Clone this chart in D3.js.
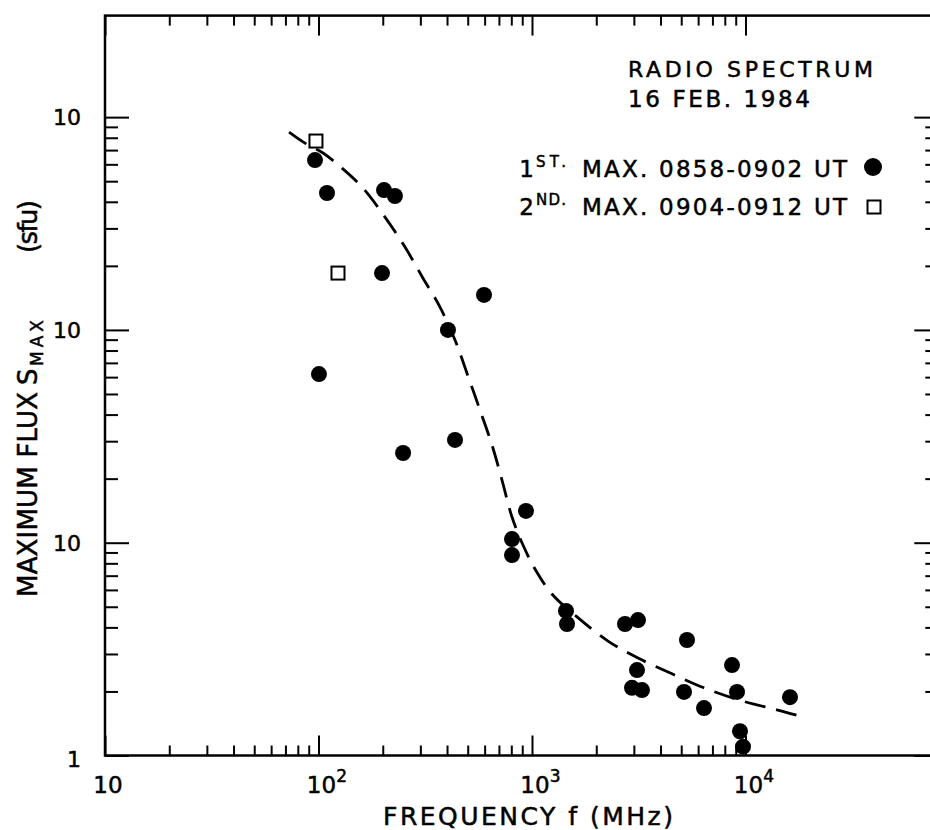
<!DOCTYPE html>
<html>
<head>
<meta charset="utf-8">
<script src="https://cdn.jsdelivr.net/npm/d3@7"></script>
<style>
  body { margin: 0; background: #fff; }
  svg text { font-family: "DejaVu Sans", sans-serif; fill: #000; stroke: #000; stroke-width: 0.5px; }
</style>
</head>
<body>
<div id="chart"></div>
<script>
// Datos (frecuencia en MHz, flujo en sfu)
const firstFreq = [96.3, 109.6, 202.7, 228, 198.4, 596, 404, 100.5, 249, 436,
                   937, 806, 806, 1443, 1459, 2727, 3137, 5321, 8648, 3103,
                   2940, 3275, 5152, 6392, 9126, 16160, 9424, 9734];
const firstFlux = [628, 440, 454, 426, 185, 146, 100, 62, 26.4, 30.4,
                   14.1, 10.4, 8.75, 4.78, 4.15, 4.15, 4.33, 3.49, 2.66, 2.52,
                   2.08, 2.03, 1.99, 1.67, 1.99, 1.88, 1.30, 1.10];
const secondFreq = [97.3, 123.4];
const secondFlux = [772, 185];

// curva ajustada (discontinua)
const fitFreq = [72.8, 86.5, 105, 128.9, 161.6, 204.9, 254.2, 308.7, 370.8, 435.8,
                 501.4, 570.7, 649.4, 723.6, 805.9, 907.5, 1033, 1240, 1625, 2270,
                 3137, 4527, 6392, 9734, 14050, 18000];
const fitFlux = [851, 755, 678, 576, 464, 339, 245, 175, 128, 89.7,
                 60.7, 42.0, 28.8, 19.7, 13.2, 9.75, 7.52, 5.74, 4.48, 3.45,
                 2.87, 2.42, 2.08, 1.80, 1.64, 1.53];

// ejes
const xMajor = [10, 100, 1000, 10000];
const xExp = ["", "2", "3", "4"];
const yMajor = [1, 10, 100, 1000];
const yLabels = ["1", "10", "10", "10"];

const width = 930, height = 830;

const svg = d3.select("#chart")
    .append("svg")
    .attr("width", width)
    .attr("height", height);

const x = d3.scaleLog().domain([10, 80000]).range([105, 938.3]);
const y = d3.scaleLog().domain([1, 3000]).range([755.5, 15.6]);

const xLeft = x.range()[0], xRight = x.range()[1];
const yBottom = y.range()[0], yTop = y.range()[1];

// ticks menores 2..9 de cada década
const xMinor = [];
[10, 100, 1000].forEach(d => { for (let k = 2; k < 10; k++) xMinor.push(d * k); });
const yMinor = [];
[1, 10, 100].forEach(d => { for (let k = 2; k < 10; k++) yMinor.push(d * k); });

function tickAxis(axis, pos, values, size) {
    svg.append("g")
        .attr("transform", pos)
        .call(axis.tickValues(values).tickSize(-size).tickFormat(""))
        .call(g => g.select(".domain").remove())
        .call(g => g.selectAll("line").attr("stroke", "#000").attr("stroke-width", 2));
}

tickAxis(d3.axisBottom(x), `translate(0,${yBottom})`, xMajor, 20);
tickAxis(d3.axisBottom(x), `translate(0,${yBottom})`, xMinor, 10);
tickAxis(d3.axisTop(x), `translate(0,${yTop})`, xMajor, 20);
tickAxis(d3.axisTop(x), `translate(0,${yTop})`, xMinor, 10);
tickAxis(d3.axisLeft(y), `translate(${xLeft},0)`, yMajor, 24);
tickAxis(d3.axisLeft(y), `translate(${xLeft},0)`, yMinor, 13);
tickAxis(d3.axisRight(y), `translate(${xRight},0)`, yMajor, 24);
tickAxis(d3.axisRight(y), `translate(${xRight},0)`, yMinor, 13);

// marco
svg.append("rect")
    .attr("x", xLeft).attr("y", yTop)
    .attr("width", xRight - xLeft).attr("height", yBottom - yTop)
    .attr("fill", "none").attr("stroke", "#000").attr("stroke-width", 2.5);

// etiquetas eje x
xMajor.forEach((v, i) => {
    const t = svg.append("text")
        .attr("x", x(v) + 3).attr("y", 793)
        .attr("text-anchor", "middle")
        .attr("font-size", 23)
        .text("10");
    if (xExp[i]) {
        const w = t.node().getComputedTextLength();
        svg.append("text")
            .attr("x", x(v) + 3 + w / 2).attr("y", 782)
            .attr("font-size", 17)
            .text(xExp[i]);
    }
});

// etiquetas eje y
yMajor.forEach((v, i) => {
    svg.append("text")
        .attr("x", 81).attr("y", y(v) + (v === 1 ? 11 : 8))
        .attr("text-anchor", "end")
        .attr("font-size", 22)
        .text(yLabels[i]);
});

// títulos de ejes
svg.append("text")
    .attr("x", 383).attr("y", 825)
    .attr("font-size", 25)
    .attr("textLength", 290).attr("lengthAdjust", "spacing")
    .text("FREQUENCY  f  (MHz)");

const yLab = svg.append("g").attr("transform", "translate(37,0) rotate(-90)");
yLab.append("text").attr("x", -597).attr("y", 0).attr("font-size", 26)
    .attr("textLength", 205).attr("lengthAdjust", "spacing")
    .text("MAXIMUM FLUX");
yLab.append("text").attr("x", -385).attr("y", 0).attr("font-size", 26).text("S");
yLab.append("text").attr("x", -366).attr("y", 6).attr("font-size", 17)
    .attr("textLength", 46).attr("lengthAdjust", "spacing").text("MAX");
yLab.append("text").attr("x", -253).attr("y", 0).attr("font-size", 26)
    .attr("textLength", 53).attr("lengthAdjust", "spacing").text("(sfu)");

// título y leyenda
svg.append("text").attr("x", 628).attr("y", 77).attr("font-size", 22)
    .attr("textLength", 245).attr("lengthAdjust", "spacing").text("RADIO SPECTRUM");
svg.append("text").attr("x", 628).attr("y", 107).attr("font-size", 23)
    .attr("textLength", 182).attr("lengthAdjust", "spacing").text("16 FEB. 1984");

const legendRows = [
    { num: "1", sup: "ST.", text: "MAX. 0858-0902 UT", base: 177 },
    { num: "2", sup: "ND.", text: "MAX. 0904-0912 UT", base: 215 }
];
legendRows.forEach(r => {
    svg.append("text").attr("x", 534).attr("y", r.base)
        .attr("text-anchor", "end").attr("font-size", 23).text(r.num);
    svg.append("text").attr("x", 536).attr("y", r.base - 10).attr("font-size", 15)
        .attr("textLength", 30).attr("lengthAdjust", "spacing").text(r.sup);
    svg.append("text").attr("x", 582).attr("y", r.base).attr("font-size", 23)
        .attr("textLength", 265).attr("lengthAdjust", "spacing").text(r.text);
});
svg.append("circle").attr("cx", 873).attr("cy", 167).attr("r", 9).attr("fill", "#000");
svg.append("rect").attr("x", 867.5).attr("y", 200.5).attr("width", 13).attr("height", 13)
    .attr("fill", "#fff").attr("stroke", "#000").attr("stroke-width", 2);

// curva discontinua
const fit = fitFreq.map((f, i) => [f, fitFlux[i]]);
svg.append("path")
    .datum(fit)
    .attr("d", d3.line().x(d => x(d[0])).y(d => y(d[1])).curve(d3.curveCatmullRom))
    .attr("fill", "none")
    .attr("stroke", "#000")
    .attr("stroke-width", 2.8)
    .attr("stroke-dasharray", "21,11");

// puntos: primer máximo
svg.selectAll(".first")
    .data(firstFreq.map((f, i) => [f, firstFlux[i]]))
    .enter().append("circle")
    .attr("class", "first")
    .attr("cx", d => x(d[0]))
    .attr("cy", d => y(d[1]))
    .attr("r", 8)
    .attr("fill", "#000");

// puntos: segundo máximo
svg.selectAll(".second")
    .data(secondFreq.map((f, i) => [f, secondFlux[i]]))
    .enter().append("rect")
    .attr("class", "second")
    .attr("x", d => x(d[0]) - 6.5)
    .attr("y", d => y(d[1]) - 6.5)
    .attr("width", 13).attr("height", 13)
    .attr("fill", "#fff")
    .attr("stroke", "#000")
    .attr("stroke-width", 2);
</script>
</body>
</html>
